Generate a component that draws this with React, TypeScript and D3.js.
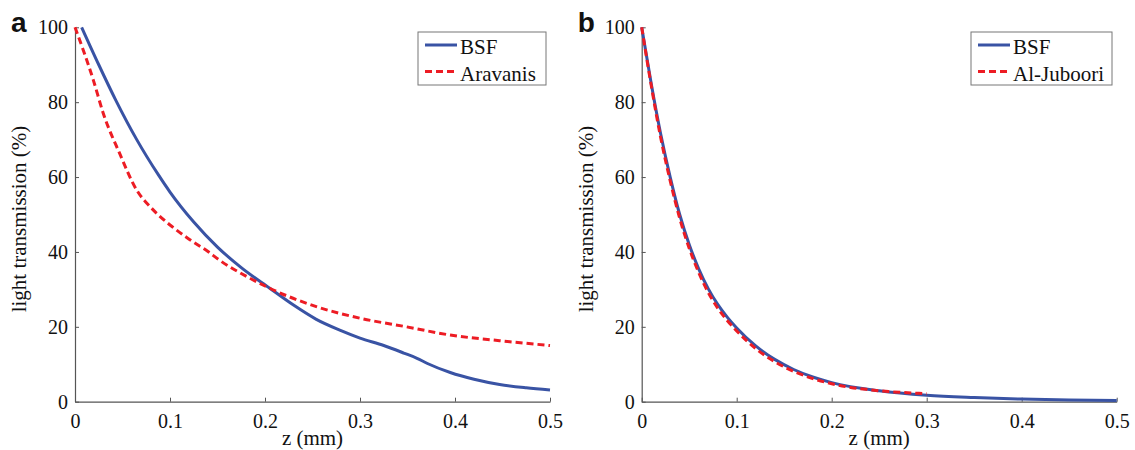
import React, { useEffect, useRef } from 'react';
import * as d3 from 'd3';

// panel a: BSF vs Aravanis
const bsfA_z = [0.007, 0.025, 0.043, 0.065, 0.088, 0.1, 0.125, 0.15, 0.175, 0.205, 0.23, 0.254, 0.28, 0.3, 0.325, 0.346, 0.36, 0.371, 0.395, 0.42, 0.447, 0.475, 0.5];
const bsfA_v = [100, 90, 80.5, 70, 60.5, 56, 48, 41.3, 35.8, 30.3, 25.8, 22, 19, 17, 15, 13, 11.6, 10.2, 7.8, 6, 4.6, 3.7, 3.1];
const aravanis_z = [0, 0.0193, 0.0298, 0.047, 0.065, 0.079, 0.0877, 0.1, 0.119, 0.14, 0.151, 0.184, 0.205, 0.254, 0.3, 0.349, 0.395, 0.447, 0.5];
const aravanis_v = [100, 85.9, 77, 66.3, 56.5, 52.1, 49.9, 47.2, 43.6, 40.1, 38, 33, 30.3, 25.4, 22.3, 20, 17.8, 16.3, 15];

// panel b: BSF vs Al-Juboori
const bsfB_z = [0, 0.01, 0.02, 0.03, 0.04, 0.05, 0.06, 0.07, 0.08, 0.09, 0.1, 0.12, 0.14, 0.16, 0.18, 0.2, 0.25, 0.3, 0.35, 0.4, 0.45, 0.5];
const bsfB_v = [100, 85, 71.5, 60, 50, 42, 35.5, 30.2, 26, 22.6, 19.7, 14.9, 11.3, 8.6, 6.6, 5.1, 2.9, 1.7, 1.1, 0.7, 0.45, 0.3];
const juboori_z = [0, 0.01, 0.02, 0.03, 0.04, 0.05, 0.06, 0.07, 0.08, 0.09, 0.1, 0.12, 0.14, 0.16, 0.18, 0.2, 0.22, 0.24, 0.26, 0.28, 0.3];
const juboori_v = [100, 84.5, 70.5, 59, 49, 41, 34.5, 29.2, 25, 21.7, 18.9, 14.2, 10.7, 8.1, 6.2, 4.8, 3.8, 3.2, 2.7, 2.4, 2.1];

const xTicks = [0, 0.1, 0.2, 0.3, 0.4, 0.5];
const yTicks = [0, 20, 40, 60, 80, 100];

const BLUE = '#3953a4';
const RED = '#ed1c24';
const SERIF = '"Liberation Serif", "Times New Roman", serif';

const zip = (zs: number[], vs: number[]) => zs.map((z, i) => ({ z, v: vs[i] }));

const panels = [
  {
    label: 'a',
    left: 75,
    series: [
      { name: 'BSF', color: BLUE, dash: null, data: zip(bsfA_z, bsfA_v) },
      { name: 'Aravanis', color: RED, dash: '7,4', data: zip(aravanis_z, aravanis_v) },
    ],
    legend: { x: 418, w: 128 },
  },
  {
    label: 'b',
    left: 641.7,
    series: [
      { name: 'BSF', color: BLUE, dash: null, data: zip(bsfB_z, bsfB_v) },
      { name: 'Al-Juboori', color: RED, dash: '7,4', data: zip(juboori_z, juboori_v) },
    ],
    legend: { x: 971, w: 141 },
  },
];

export default function App() {
  const ref = useRef<SVGSVGElement>(null);

  useEffect(() => {
    const svg = d3.select(ref.current);
    svg.selectAll('*').remove();

    const top = 27.3;
    const bottom = 401.7;
    const plotW = 475;

    panels.forEach((p) => {
      const x = d3.scaleLinear().domain([0, 0.5]).range([p.left, p.left + plotW]);
      const y = d3.scaleLinear().domain([0, 100]).range([bottom, top]);
      const g = svg.append('g');

      // x axis
      const xAxis = g
        .append('g')
        .attr('transform', `translate(0,${bottom})`)
        .call(d3.axisBottom(x).tickValues(xTicks).tickSizeInner(-4).tickSizeOuter(0).tickPadding(12).tickFormat((d) => (d === 0 ? '0' : String(d))));
      xAxis.select('.domain').attr('stroke', '#555').attr('stroke-width', 1.2);
      xAxis.selectAll('line').attr('stroke', '#555');
      xAxis
        .selectAll('text')
        .attr('fill', '#111')
        .style('font-family', SERIF)
        .style('font-size', '20px')
        .attr('dy', '0.71em');

      // y axis
      const yAxis = g
        .append('g')
        .attr('transform', `translate(${p.left},0)`)
        .call(d3.axisLeft(y).tickValues(yTicks).tickSizeInner(-4).tickSizeOuter(0).tickPadding(7));
      yAxis.select('.domain').attr('stroke', '#555').attr('stroke-width', 1.2);
      yAxis.selectAll('line').attr('stroke', '#555');
      yAxis
        .selectAll('text')
        .attr('fill', '#111')
        .style('font-family', SERIF)
        .style('font-size', '20px');

      // axis titles
      g.append('text')
        .attr('x', p.left + plotW / 2)
        .attr('y', 445)
        .attr('text-anchor', 'middle')
        .style('font-family', SERIF)
        .style('font-size', '21px')
        .attr('fill', '#111')
        .text('z (mm)');

      g.append('text')
        .attr('transform', `translate(${p.left - 49},219) rotate(-90)`)
        .attr('text-anchor', 'middle')
        .style('font-family', SERIF)
        .style('font-size', '21px')
        .attr('fill', '#111')
        .text('light transmission (%)');

      // panel letter
      g.append('text')
        .attr('x', p.left - 64)
        .attr('y', 32)
        .style('font-family', '"Liberation Sans", Arial, sans-serif')
        .style('font-weight', 'bold')
        .style('font-size', '28px')
        .attr('fill', '#111')
        .text(p.label);

      // lines
      const line = d3
        .line<{ z: number; v: number }>()
        .x((d) => x(d.z))
        .y((d) => y(d.v))
        .curve(d3.curveMonotoneX);

      p.series.forEach((s) => {
        g.append('path')
          .datum(s.data)
          .attr('d', line)
          .attr('fill', 'none')
          .attr('stroke', s.color)
          .attr('stroke-width', 3)
          .attr('stroke-dasharray', s.dash);
      });

      // legend
      const lg = g.append('g').attr('transform', `translate(${p.legend.x},32)`);
      lg.append('rect')
        .attr('width', p.legend.w)
        .attr('height', 53)
        .attr('fill', '#fff')
        .attr('stroke', '#777')
        .attr('stroke-width', 1);
      p.series.forEach((s, i) => {
        const ly = 13 + i * 26.5;
        lg.append('line')
          .attr('x1', 7)
          .attr('x2', 39)
          .attr('y1', ly)
          .attr('y2', ly)
          .attr('stroke', s.color)
          .attr('stroke-width', 3)
          .attr('stroke-dasharray', s.dash);
        lg.append('text')
          .attr('x', 42)
          .attr('y', ly + 9)
          .style('font-family', SERIF)
          .style('font-size', '21px')
          .attr('fill', '#111')
          .text(s.name);
      });
    });
  }, []);

  return (
    <svg
      ref={ref}
      width={1135}
      height={450}
      style={{ position: 'absolute', left: 0, top: 0, background: '#fff' }}
    />
  );
}
